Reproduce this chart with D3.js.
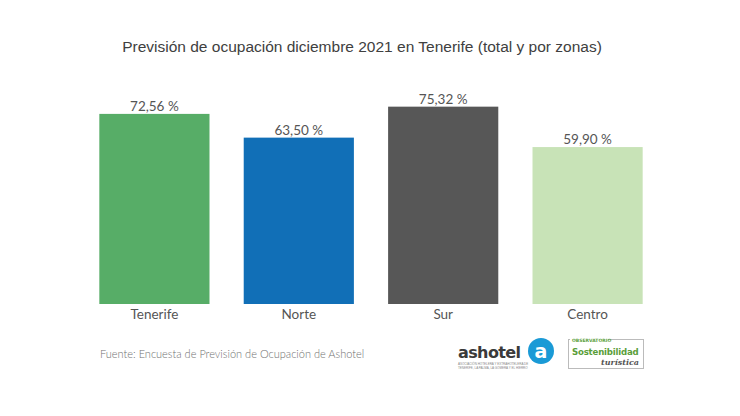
<!DOCTYPE html>
<html><head><meta charset="utf-8">
<script src="https://cdn.jsdelivr.net/npm/d3@7"></script>
<style>body{margin:0;background:#fff}svg{display:block}</style>
</head><body>
<svg id="c" width="740" height="416"></svg>
<script>
const categories = ["Tenerife", "Norte", "Sur", "Centro"];
const values = [72.56, 63.50, 75.32, 59.90];
const colors = ["#57ad67", "#116fb7", "#575757", "#c8e3b7"];
const title = "Previsión de ocupación diciembre 2021 en Tenerife (total y por zonas)";
const source = "Fuente: Encuesta de Previsión de Ocupación de Ashotel";

const svg = d3.select("#c");
const x = d3.scaleBand().domain(categories).range([82, 660]).paddingInner(0.237).paddingOuter(0.12);
const y = d3.scaleLinear().domain([0, 100]).range([304, 42]);

svg.append("text").attr("x", 362).attr("y", 52).attr("text-anchor", "middle")
  .attr("font-family", "Liberation Sans, Arial, sans-serif").attr("font-size", 15.5).attr("fill", "#404040").text(title);

svg.selectAll("rect.bar").data(values).join("rect").attr("class", "bar")
  .attr("x", (d, i) => x(categories[i])).attr("width", x.bandwidth())
  .attr("y", d => y(d)).attr("height", d => y(0) - y(d))
  .attr("fill", (d, i) => colors[i]);

const fmt = v => v.toFixed(2).replace(".", ",") + " %";
svg.selectAll("text.val").data(values).join("text").attr("class", "val")
  .attr("x", (d, i) => x(categories[i]) + x.bandwidth() / 2).attr("y", d => y(d) - 3)
  .attr("text-anchor", "middle").attr("font-family", "Lato, sans-serif").attr("font-size", 13.5)
  .attr("fill", "#555").text(fmt);

const ax = svg.append("g").attr("transform", `translate(0,${y(0)})`).call(d3.axisBottom(x).tickSize(0).tickPadding(5));
ax.select(".domain").remove();
ax.selectAll("text").attr("font-family", "Lato, sans-serif").attr("font-size", 13.5).attr("fill", "#555");

svg.append("text").attr("x", 100).attr("y", 358).attr("font-family", "Lato, sans-serif").attr("font-weight", 300)
  .attr("font-size", 11).attr("fill", "#707070").text(source);

// logos
const lg = svg.append("g");
lg.append("text").attr("x", 458).attr("y", 358).attr("font-family", "DejaVu Sans, sans-serif").attr("font-weight", "bold")
  .attr("font-size", 16).attr("fill", "#3a3a3a").attr("letter-spacing", -0.6).text("ashotel");
lg.append("text").attr("x", 458).attr("y", 365).attr("font-family", "Liberation Sans, sans-serif")
  .attr("font-size", 3).attr("fill", "#888").text("ASOCIACIÓN HOTELERA Y EXTRAHOTELERA DE");
lg.append("text").attr("x", 458).attr("y", 369).attr("font-family", "Liberation Sans, sans-serif")
  .attr("font-size", 3).attr("fill", "#888").text("TENERIFE, LA PALMA, LA GOMERA Y EL HIERRO");
lg.append("circle").attr("cx", 541).attr("cy", 351).attr("r", 13).attr("fill", "#1a9ad6");
lg.append("text").attr("x", 541).attr("y", 358).attr("text-anchor", "middle").attr("font-family", "DejaVu Sans, sans-serif")
  .attr("font-weight", "bold").attr("font-size", 19).attr("fill", "#fff").text("a");
lg.append("rect").attr("x", 568.5).attr("y", 339.5).attr("width", 75).attr("height", 29).attr("fill", "#fff").attr("stroke", "#bbb");
lg.append("rect").attr("x", 570).attr("y", 338).attr("width", 38).attr("height", 4).attr("fill", "#fff");
lg.append("text").attr("x", 572).attr("y", 342).attr("font-family", "DejaVu Sans, sans-serif").attr("font-weight", "bold")
  .attr("font-size", 4.5).attr("fill", "#5a9e3a").text("OBSERVATORIO");
lg.append("text").attr("x", 572).attr("y", 355).attr("font-family", "DejaVu Sans, sans-serif").attr("font-weight", "bold")
  .attr("font-size", 8.6).attr("fill", "#5a9e3a").attr("letter-spacing", -0.2).text("Sostenibilidad");
lg.append("text").attr("x", 639).attr("y", 365).attr("text-anchor", "end").attr("font-family", "DejaVu Serif, serif").attr("font-weight", "bold")
  .attr("font-style", "italic").attr("font-size", 8).attr("fill", "#555").text("turística");
</script>
</body></html>
